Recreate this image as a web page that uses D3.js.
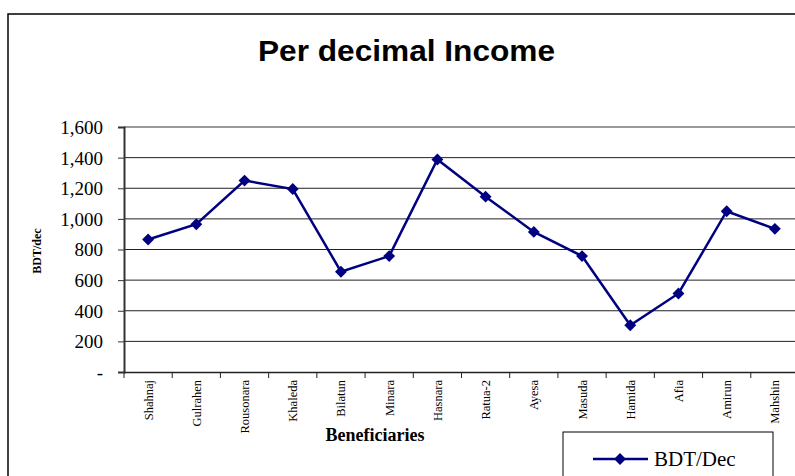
<!DOCTYPE html>
<html><head><meta charset="utf-8">
<script src="https://cdn.jsdelivr.net/npm/d3@7/dist/d3.min.js"></script>
<style>html,body{margin:0;padding:0;background:#fff;overflow:hidden}</style>
</head><body>
<svg id="c" width="795" height="476"></svg>
<script>
const categories = ["Shahnaj","Gulrahen","Rousonara","Khaleda","Bilatun","Minara","Hasnara","Ratua-2","Ayesa","Masuda","Hamida","Afia","Amirun","Mahshin"];
const values = [865, 965, 1250, 1195, 655, 757, 1388, 1145, 915, 757, 305, 513, 1050, 935];
const yTicks = [0, 200, 400, 600, 800, 1000, 1200, 1400, 1600];
const seriesName = "BDT/Dec";

const svg = d3.select("#c");
const L = 124, T = 127, B = 372, R = 799;
const serif = "'Liberation Serif','Times New Roman',serif";
const sans = "'Liberation Sans',Arial,sans-serif";

// outer chart border
svg.append("rect").attr("x", 8).attr("y", 14).attr("width", 820).attr("height", 500)
  .attr("fill", "#fff").attr("stroke", "#000").attr("stroke-width", 1.5);

svg.append("text").attr("x", 258).attr("y", 61)
  .attr("font-family", sans).attr("font-weight", "bold").attr("font-size", 29.5)
  .attr("textLength", 297).attr("lengthAdjust", "spacingAndGlyphs").text("Per decimal Income");

const x = d3.scaleBand().domain(categories).range([L, R]);
const y = d3.scaleLinear().domain([0, 1600]).range([B, T]);

// gridlines
svg.append("g").selectAll("line").data(yTicks.filter(d => d > 0)).join("line")
  .attr("x1", L).attr("x2", R).attr("y1", d => y(d)).attr("y2", d => y(d))
  .attr("stroke", d => d === 1600 ? "#999" : "#222").attr("stroke-width", d => d === 1600 ? 2 : 1);

// y axis
const fmt = d => d === 0 ? "-" : d3.format(",")(d);
const ya = svg.append("g").attr("transform", `translate(${L},0)`)
  .call(d3.axisLeft(y).tickValues(yTicks).tickFormat(fmt).tickSize(6).tickPadding(15));
ya.attr("font-family", serif).attr("font-size", 19);
ya.select(".domain").attr("stroke", "#333").attr("stroke-width", 2);
ya.selectAll(".tick line").attr("stroke", "#333");
ya.selectAll("text").attr("font-family", serif).attr("font-size", 19).attr("fill", "#000").attr("dy", "0.34em");

// x axis
const xa = svg.append("g").attr("transform", `translate(0,${B})`)
  .call(d3.axisBottom(x).tickSize(0).tickFormat(""));
xa.select(".domain").attr("stroke", "#222").attr("stroke-width", 1.5);
svg.append("g").selectAll("line").data(categories).join("line")
  .attr("x1", d => x(d)).attr("x2", d => x(d)).attr("y1", B).attr("y2", B + 6)
  .attr("stroke", "#222").attr("stroke-width", 1);
svg.append("g").selectAll("text").data(categories).join("text")
  .attr("transform", d => `translate(${x(d) + x.bandwidth() / 2 + 4.5},${B + 8}) rotate(-90)`)
  .attr("text-anchor", "end").attr("font-family", serif).attr("font-size", 12.5).text(d => d);

svg.append("text").attr("x", 375).attr("y", 441).attr("text-anchor", "middle")
  .attr("font-family", serif).attr("font-weight", "bold").attr("font-size", 18).text("Beneficiaries");

svg.append("text").attr("transform", "translate(41,251) rotate(-90)").attr("text-anchor", "middle")
  .attr("font-family", serif).attr("font-weight", "bold").attr("font-size", 12).text("BDT/dec");

// line
const cx = d => x(d) + x.bandwidth() / 2;
const line = d3.line().x((d, i) => cx(categories[i])).y(d => y(d));
svg.append("path").datum(values).attr("d", line).attr("fill", "none")
  .attr("stroke", "#000080").attr("stroke-width", 2.5);
const diamond = d3.symbol().type(d3.symbolDiamond2).size(90);
svg.append("g").selectAll("path").data(values).join("path")
  .attr("transform", (d, i) => `translate(${cx(categories[i])},${y(d)})`)
  .attr("d", diamond).attr("fill", "#000080");

// legend
svg.append("rect").attr("x", 563).attr("y", 432).attr("width", 210).attr("height", 60)
  .attr("fill", "#fff").attr("stroke", "#000").attr("stroke-width", 1);
svg.append("line").attr("x1", 593).attr("x2", 648).attr("y1", 459).attr("y2", 459)
  .attr("stroke", "#000080").attr("stroke-width", 2.5);
svg.append("path").attr("transform", "translate(620,459)").attr("d", diamond).attr("fill", "#000080");
svg.append("text").attr("x", 654).attr("y", 466).attr("font-family", serif).attr("font-size", 21).text(seriesName);
</script>
</body></html>
